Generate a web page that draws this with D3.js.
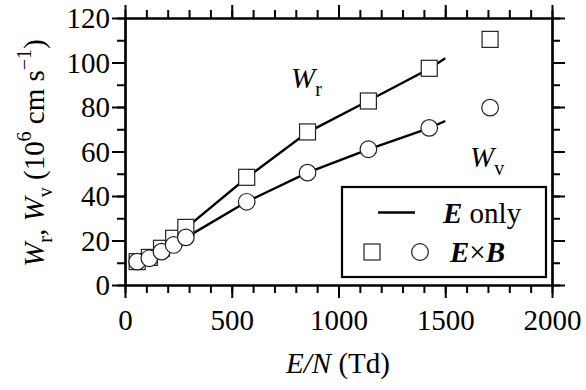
<!DOCTYPE html>
<html>
<head>
<meta charset="utf-8">
<script src="https://cdn.jsdelivr.net/npm/d3@7"></script>
<style>
  body { margin: 0; background: #fff; }
</style>
</head>
<body>
<svg id="chart" width="586" height="390"></svg>
<script>
// Drift velocities of the electron swarm against reduced field.
const fieldExB = [57, 114, 171, 228, 285, 570, 855, 1140, 1425, 1710];
const wrExB    = [10.5, 12.4, 16.5, 21.0, 25.9, 48.4, 68.8, 82.7, 97.4, 110.4];
const wvExB    = [10.5, 12.0, 15.0, 18.0, 21.4, 37.4, 50.5, 61.0, 70.6, 79.7];

const fieldEOnly = [57, 114, 171, 228, 285, 570, 855, 1140, 1425, 1500];
const wrEOnly    = [10.5, 12.5, 16.3, 20.8, 25.6, 48.2, 68.6, 82.8, 97.2, 101.9];
const wvEOnly    = [10.5, 12.0, 15.0, 18.0, 21.3, 37.4, 50.5, 61.0, 70.5, 73.7];

const xTickValues = [0, 500, 1000, 1500, 2000];
const yTickValues = [0, 20, 40, 60, 80, 100, 120];
const xMinorValues = d3.range(0, 2001, 100);
const yMinorValues = d3.range(0, 121, 10);

const W = 586, H = 390;
const m = { left: 125, right: 34, top: 18, bottom: 105 };
const FONT = "Liberation Serif";
const FS = 29;

const svg = d3.select("#chart");
const x = d3.scaleLinear().domain([0, 2000]).range([m.left, W - m.right]);
const y = d3.scaleLinear().domain([0, 120]).range([H - m.bottom, m.top]);

// Frame with outward ticks on all four sides
function drawAxis(axisFn, scale, transform, minor, major, labels) {
  const gMinor = svg.append("g").attr("transform", transform)
    .call(axisFn(scale).tickValues(minor).tickSize(8).tickFormat("").tickSizeOuter(0));
  const gMajor = svg.append("g").attr("transform", transform)
    .call(axisFn(scale).tickValues(major).tickSize(13).tickSizeOuter(0)
      .tickFormat(labels ? d3.format("d") : ""));
  [gMinor, gMajor].forEach(g => {
    g.attr("font-family", FONT).attr("font-size", FS);
    g.select(".domain").attr("stroke", "#000").attr("stroke-width", 2.2);
    g.selectAll(".tick line").attr("stroke", "#000").attr("stroke-width", 2);
  });
  return gMajor;
}

const gBottom = drawAxis(d3.axisBottom, x, `translate(0,${y(0)})`, xMinorValues, xTickValues, true);
drawAxis(d3.axisTop, x, `translate(0,${y(120)})`, xMinorValues, xTickValues, false);
const gLeft = drawAxis(d3.axisLeft, y, `translate(${x(0)},0)`, yMinorValues, yTickValues, true);
drawAxis(d3.axisRight, y, `translate(${x(2000)},0)`, yMinorValues, yTickValues, false);

gBottom.selectAll(".tick text")
  .attr("font-family", FONT).attr("font-size", FS).attr("fill", "#000")
  .attr("y", 0).attr("dy", 45);
gLeft.selectAll(".tick text")
  .attr("font-family", FONT).attr("font-size", FS).attr("fill", "#000")
  .attr("x", -15).attr("dy", "0.34em");

// Guide lines (E only)
const line = d3.line().x(d => x(d[0])).y(d => y(d[1]));
[wrEOnly, wvEOnly].forEach(vals => {
  svg.append("path")
    .datum(fieldEOnly.map((f, i) => [f, vals[i]]))
    .attr("d", line).attr("fill", "none")
    .attr("stroke", "#000").attr("stroke-width", 2.4);
});

// E x B markers
const SQ = 16, R = 8.3;
svg.append("g").selectAll("rect")
  .data(fieldExB.map((f, i) => [f, wrExB[i]]))
  .join("rect")
  .attr("x", d => x(d[0]) - SQ / 2).attr("y", d => y(d[1]) - SQ / 2)
  .attr("width", SQ).attr("height", SQ)
  .attr("fill", "#fff").attr("stroke", "#222").attr("stroke-width", 1.2);
svg.append("g").selectAll("circle")
  .data(fieldExB.map((f, i) => [f, wvExB[i]]))
  .join("circle")
  .attr("cx", d => x(d[0])).attr("cy", d => y(d[1])).attr("r", R)
  .attr("fill", "#fff").attr("stroke", "#222").attr("stroke-width", 1.2);

// Text helper: a text run made of styled pieces
function label(px, py, anchor, parts, rot = 0) {
  const t = svg.append("text")
    .attr("transform", `translate(${px},${py}) rotate(${rot})`)
    .attr("font-family", FONT).attr("font-size", FS)
    .attr("text-anchor", anchor).attr("fill", "#000");
  parts.forEach(p => {
    const s = t.append("tspan").text(p.t);
    if (p.i) s.attr("font-style", "italic");
    if (p.b) s.attr("font-weight", "bold");
    if (p.fs) s.attr("font-size", p.fs);
    if (p.dy) s.attr("dy", p.dy);
  });
  return t;
}

// Curve labels
label(291, 88, "start", [{ t: "W", i: 1 }, { t: "r", fs: 20, dy: 8 }]);
label(470, 167, "start", [{ t: "W", i: 1 }, { t: "v", fs: 20, dy: 8 }]);

// Axis titles
label(338, 373, "middle", [{ t: "E/N", i: 1 }, { t: " (Td)" }]);
label(44, 153, "middle", [
  { t: "W", i: 1 }, { t: "r", fs: 20, dy: 8 }, { t: ", ", dy: -8 },
  { t: "W", i: 1 }, { t: "v", fs: 20, dy: 8 }, { t: " (10", dy: -8 },
  { t: "6", fs: 20, dy: -13 }, { t: " cm s", dy: 13 },
  { t: "−1", fs: 20, dy: -13 }, { t: ")", dy: 13 }
], -90);

// Legend
svg.append("rect")
  .attr("x", 342).attr("y", 187).attr("width", 204).attr("height", 90)
  .attr("fill", "#fff").attr("stroke", "#000").attr("stroke-width", 2.2);
svg.append("line")
  .attr("x1", 378).attr("x2", 415).attr("y1", 212.5).attr("y2", 212.5)
  .attr("stroke", "#000").attr("stroke-width", 2.4);
label(443, 223, "start", [{ t: "E", i: 1, b: 1 }, { t: " only" }]);
svg.append("rect")
  .attr("x", 372 - SQ / 2).attr("y", 252 - SQ / 2).attr("width", SQ).attr("height", SQ)
  .attr("fill", "#fff").attr("stroke", "#222").attr("stroke-width", 1.2);
svg.append("circle")
  .attr("cx", 420).attr("cy", 252).attr("r", R)
  .attr("fill", "#fff").attr("stroke", "#222").attr("stroke-width", 1.2);
label(450, 262, "start", [{ t: "E", i: 1, b: 1 }, { t: "×" }, { t: "B", i: 1, b: 1 }]);
</script>
</body>
</html>
